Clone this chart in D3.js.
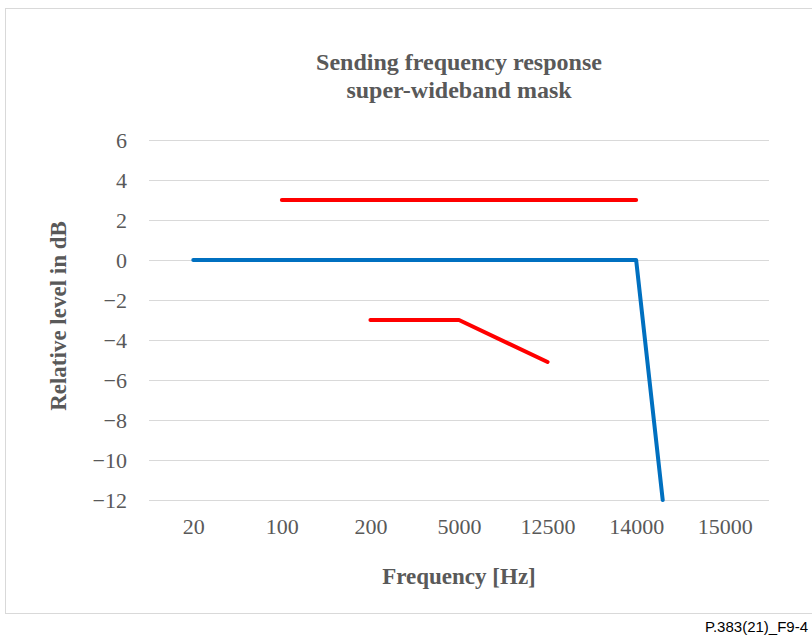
<!DOCTYPE html>
<html>
<head>
<meta charset="utf-8">
<script src="https://cdn.jsdelivr.net/npm/d3@7"></script>
<style>
  body { margin: 0; background: #fff; }
  svg { display: block; }
</style>
</head>
<body>
<div id="main"></div>
<script>
// categories on the x axis (evenly spaced, like an Excel category axis)
const categories = ["20", "100", "200", "5000", "12500", "14000", "15000"];
const yTicks = [6, 4, 2, 0, -2, -4, -6, -8, -10, -12];

// series: x given as category position (0 = "20"), y in dB
const nominalX = [0, 5, 5.3];
const nominalY = [0, 0, -12];
const upperX = [1, 5];
const upperY = [3, 3];
const lowerX = [2, 3, 4];
const lowerY = [-3, -3, -5.1];

const W = 812, H = 637;
const plot = { left: 149, right: 769, top: 140, bottom: 500 };
const grey = "#595959";
const serif = "'Liberation Serif', 'Times New Roman', serif";

const svg = d3.select("#main").append("svg")
    .attr("width", W)
    .attr("height", H);

// frame
svg.append("rect")
    .attr("x", 5.5).attr("y", 8.5)
    .attr("width", W).attr("height", 605)
    .attr("fill", "none")
    .attr("stroke", "#d9d9d9")
    .attr("stroke-width", 1);

const x = d3.scaleLinear()
    .domain([-0.5, categories.length - 0.5])
    .range([plot.left, plot.right]);

const y = d3.scaleLinear()
    .domain([-12, 6])
    .range([plot.bottom, plot.top]);

// gridlines + y labels
const yAxis = svg.append("g")
    .attr("transform", `translate(${plot.left},0)`)
    .call(d3.axisLeft(y)
        .tickValues(yTicks)
        .tickSize(-(plot.right - plot.left))
        .tickPadding(22)
        .tickFormat(d => d < 0 ? "\u2212" + Math.abs(d) : d));
yAxis.select(".domain").remove();
yAxis.selectAll(".tick line").attr("stroke", "#d9d9d9").attr("stroke-width", 1.2);
yAxis.selectAll(".tick text")
    .attr("fill", grey)
    .style("font-family", serif)
    .style("font-size", "22px");

// x labels
const xAxis = svg.append("g")
    .attr("transform", `translate(0,${plot.bottom})`)
    .call(d3.axisBottom(x)
        .tickValues(d3.range(categories.length))
        .tickSize(0)
        .tickPadding(18)
        .tickFormat(i => categories[i]));
xAxis.select(".domain").remove();
xAxis.selectAll(".tick text")
    .attr("fill", grey)
    .style("font-family", serif)
    .style("font-size", "22px");

// lines
const line = d3.line().x(d => x(d[0])).y(d => y(d[1]));
const series = [
    { xs: nominalX, ys: nominalY, color: "#0070c0" },
    { xs: upperX, ys: upperY, color: "#ff0000" },
    { xs: lowerX, ys: lowerY, color: "#ff0000" }
];
svg.append("g").selectAll("path")
    .data(series)
    .join("path")
    .attr("d", s => line(d3.zip(s.xs, s.ys)))
    .attr("fill", "none")
    .attr("stroke", s => s.color)
    .attr("stroke-width", 4)
    .attr("stroke-linecap", "round")
    .attr("stroke-linejoin", "round");

// title
const title = svg.append("text")
    .attr("text-anchor", "middle")
    .attr("fill", grey)
    .style("font-family", serif)
    .style("font-size", "24px")
    .style("font-weight", "bold");
title.append("tspan").attr("x", 459).attr("y", 70).text("Sending frequency response");
title.append("tspan").attr("x", 459).attr("y", 98).text("super-wideband mask");

// axis titles
svg.append("text")
    .attr("transform", `translate(66,316) rotate(-90)`)
    .attr("text-anchor", "middle")
    .attr("fill", grey)
    .style("font-family", serif)
    .style("font-size", "23px")
    .style("font-weight", "bold")
    .text("Relative level in dB");

svg.append("text")
    .attr("x", 459)
    .attr("y", 584)
    .attr("text-anchor", "middle")
    .attr("fill", grey)
    .style("font-family", serif)
    .style("font-size", "23px")
    .style("font-weight", "bold")
    .text("Frequency [Hz]");

// figure reference (kept fully inside the page)
svg.append("text")
    .attr("x", 808)
    .attr("y", 632)
    .attr("text-anchor", "end")
    .attr("fill", "#000")
    .style("font-family", "'Liberation Sans', Arial, sans-serif")
    .style("font-size", "15px")
    .text("P.383(21)_F9-4");
</script>
</body>
</html>
